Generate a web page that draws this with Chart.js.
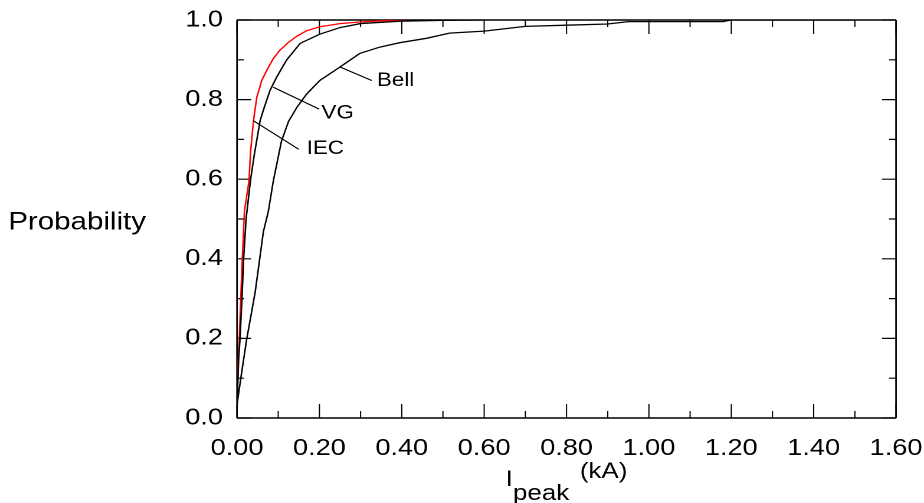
<!DOCTYPE html>
<html>
<head>
<meta charset="utf-8">
<script src="https://cdn.jsdelivr.net/npm/chart.js@4"></script>
<style>
  html, body { margin: 0; padding: 0; background: #fff; overflow: hidden; }
  #wrap { width: 924px; height: 503px; overflow: hidden; }
  /* the plot is drawn narrow and widened, so the type comes out broad like the print */
  #chart { transform-origin: 0 0; transform: scaleX(1.18008); }
</style>
</head>
<body>
<div id="wrap"><canvas id="chart" width="783" height="503"></canvas></div>
<script>
// Cumulative probability of the peak current, three distributions
const iecCurrent = [0, 0.003, 0.0056, 0.009, 0.0128, 0.018, 0.029, 0.033, 0.040, 0.048, 0.060, 0.072, 0.088, 0.104, 0.124, 0.145, 0.169, 0.201, 0.25, 0.298, 0.35, 0.41]
const iecProb    = [0.034, 0.14, 0.198, 0.3, 0.4, 0.52, 0.595, 0.671, 0.747, 0.806, 0.848, 0.873, 0.903, 0.924, 0.943, 0.959, 0.973, 0.983, 0.991, 0.995, 0.998, 1.0]

const vgCurrent = [0, 0.004, 0.0073, 0.012, 0.016, 0.022, 0.033, 0.042, 0.056, 0.066, 0.080, 0.096, 0.12, 0.153, 0.20, 0.25, 0.30, 0.395, 0.5, 0.6]
const vgProb    = [0.034, 0.15, 0.2, 0.3, 0.4, 0.5, 0.6, 0.662, 0.747, 0.78, 0.823, 0.856, 0.899, 0.941, 0.964, 0.981, 0.991, 0.997, 0.999, 1.0]

const bellCurrent = [0, 0.012, 0.0235, 0.044, 0.064, 0.076, 0.088, 0.108, 0.125, 0.145, 0.169, 0.201, 0.25, 0.298, 0.347, 0.395, 0.46, 0.516, 0.60, 0.70, 0.80, 0.90, 0.95, 1.18, 1.20, 1.50]
const bellProb    = [0.034, 0.12, 0.198, 0.316, 0.468, 0.519, 0.595, 0.696, 0.745, 0.78, 0.814, 0.848, 0.882, 0.916, 0.932, 0.943, 0.954, 0.967, 0.972, 0.984, 0.987, 0.99, 0.996, 0.996, 1.0, 1.0]

const xTicks = [0, 0.2, 0.4, 0.6, 0.8, 1.0, 1.2, 1.4, 1.6]
const yTicks = [0, 0.2, 0.4, 0.6, 0.8, 1.0]

// curve names with leader lines, in axis units (kA, probability)
const curveNotes = [
  { text: 'Bell', from: [0.25, 0.882],   to: [0.327, 0.848], at: [0.3395, 0.847] },
  { text: 'VG',   from: [0.088, 0.831],  to: [0.1995, 0.776], at: [0.205, 0.766] },
  { text: 'IEC',  from: [0.0395, 0.747], to: [0.150, 0.675], at: [0.169, 0.677] }
]

const STRETCH = 1.18008
const FONT = "'Liberation Sans', Arial, sans-serif"

const toPoints = (xs, ys) => xs.map((x, i) => ({ x, y: ys[i] }))

// box round the plot with inward ticks on every side
const frameTicks = {
  id: 'frameTicks',
  beforeDatasetsDraw(chart) {
    const { ctx, chartArea: a, scales: { x, y } } = chart
    ctx.save()
    ctx.strokeStyle = '#000'

    // horizontal strokes
    ctx.lineWidth = 1.2
    ctx.beginPath()
    for (let i = 0; i <= 10; i++) {
      const py = y.getPixelForValue(i / 10)
      const len = (i % 2 === 0 ? 14 : 7) / STRETCH
      ctx.moveTo(a.left, py); ctx.lineTo(a.left + len, py)
      ctx.moveTo(a.right, py); ctx.lineTo(a.right - len, py)
    }
    ctx.stroke()

    // vertical strokes, thinned to undo the widening
    ctx.lineWidth = 1.2 / STRETCH
    ctx.beginPath()
    for (let i = 0; i <= 16; i++) {
      const px = x.getPixelForValue(i / 10)
      const len = i % 2 === 0 ? 14 : 7
      ctx.moveTo(px, a.bottom); ctx.lineTo(px, a.bottom - len)
      ctx.moveTo(px, a.top); ctx.lineTo(px, a.top + len)
    }
    ctx.stroke()

    ctx.lineWidth = 1.6
    ctx.beginPath()
    ctx.moveTo(a.left, a.top); ctx.lineTo(a.right, a.top)
    ctx.moveTo(a.left, a.bottom); ctx.lineTo(a.right, a.bottom)
    ctx.stroke()
    ctx.lineWidth = 1.6 / STRETCH
    ctx.beginPath()
    ctx.moveTo(a.left, a.top); ctx.lineTo(a.left, a.bottom)
    ctx.moveTo(a.right, a.top); ctx.lineTo(a.right, a.bottom)
    ctx.stroke()
    ctx.restore()
  }
}

// axis titles (x title has a subscript) and the curve labels
const titlesAndNotes = {
  id: 'titlesAndNotes',
  afterDatasetsDraw(chart) {
    const { ctx, chartArea: a, scales: { x, y } } = chart
    ctx.save()
    ctx.fillStyle = '#000'
    ctx.strokeStyle = '#000'

    ctx.font = '25px ' + FONT
    ctx.textAlign = 'left'
    ctx.textBaseline = 'alphabetic'
    ctx.fillText('Probability', 7, (a.top + a.bottom) / 2 + 10.5)

    ctx.font = '22px ' + FONT
    const w1 = ctx.measureText('I').width
    const w2 = ctx.measureText('peak').width
    const w3 = ctx.measureText('(kA)').width
    const gap = 9
    let cx = (a.left + a.right) / 2 - (w1 + w2 + gap + w3) / 2
    ctx.fillText('I', cx, a.bottom + 68)
    ctx.fillText('peak', cx + w1, a.bottom + 82)
    ctx.fillText('(kA)', cx + w1 + w2 + gap, a.bottom + 60)

    ctx.lineWidth = 1.1
    ctx.font = '19px ' + FONT
    ctx.textBaseline = 'middle'
    curveNotes.forEach(n => {
      ctx.beginPath()
      ctx.moveTo(x.getPixelForValue(n.from[0]), y.getPixelForValue(n.from[1]))
      ctx.lineTo(x.getPixelForValue(n.to[0]), y.getPixelForValue(n.to[1]))
      ctx.stroke()
      ctx.fillText(n.text, x.getPixelForValue(n.at[0]), y.getPixelForValue(n.at[1]))
    })
    ctx.restore()
  }
}

const lineSet = (data, color) => ({
  data,
  borderColor: color,
  borderWidth: 1.3,
  pointRadius: 0,
  tension: 0,
  fill: false
})

new Chart(document.getElementById('chart'), {
  type: 'line',
  data: {
    datasets: [
      lineSet(toPoints(bellCurrent, bellProb), '#000000'),
      lineSet(toPoints(vgCurrent, vgProb), '#000000'),
      lineSet(toPoints(iecCurrent, iecProb), '#ff0000')
    ]
  },
  options: {
    responsive: false,
    devicePixelRatio: 2,
    animation: false,
    layout: { padding: { left: 150.85, right: 23.7, top: 20, bottom: 45 } },
    plugins: {
      legend: { display: false },
      tooltip: { enabled: false }
    },
    scales: {
      x: {
        type: 'linear',
        min: 0,
        max: 1.6,
        // fixed size, and no extra room for the end labels
        afterFit: s => { s.height = 40; s.paddingLeft = 0; s.paddingRight = 0 },
        afterBuildTicks: s => { s.ticks = xTicks.map(value => ({ value })) },
        grid: { display: false, drawTicks: false },
        border: { display: false },
        ticks: {
          color: '#000',
          padding: 17,
          maxRotation: 0,
          font: { family: FONT, size: 23 },
          callback: v => v.toFixed(2)
        }
      },
      y: {
        type: 'linear',
        min: 0,
        max: 1,
        afterFit: s => { s.width = 50; s.paddingTop = 0; s.paddingBottom = 0 },
        afterBuildTicks: s => { s.ticks = yTicks.map(value => ({ value })) },
        grid: { display: false, drawTicks: false },
        border: { display: false },
        ticks: {
          color: '#000',
          padding: 11.9,
          font: { family: FONT, size: 23 },
          callback: v => v.toFixed(1)
        }
      }
    }
  },
  plugins: [frameTicks, titlesAndNotes]
})
</script>
</body>
</html>
